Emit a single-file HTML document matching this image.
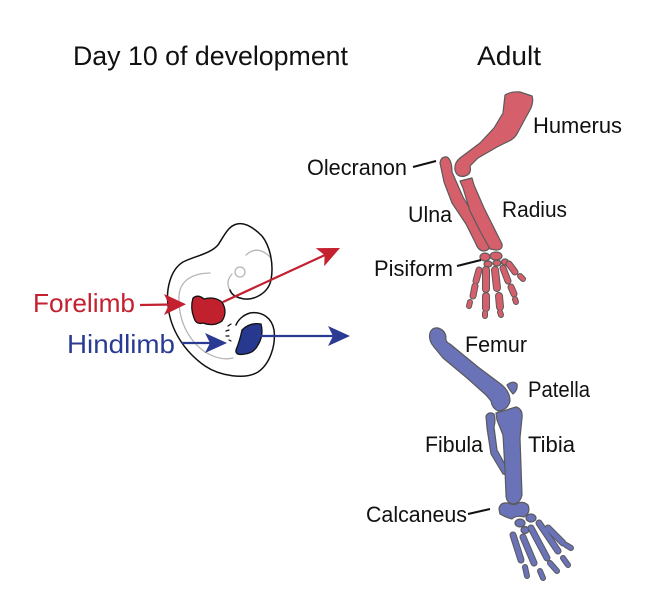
<!DOCTYPE html>
<html>
<head>
<meta charset="utf-8">
<style>
html,body{margin:0;padding:0;background:#fff;}
svg{display:block;}
text{font-family:"Liberation Sans",sans-serif;}
</style>
</head>
<body>
<svg width="662" height="591" viewBox="0 0 662 591" xmlns="http://www.w3.org/2000/svg">
<rect width="662" height="591" fill="#fff"/>

<!-- Titles -->
<text x="73" y="65" font-size="27" fill="#111" textLength="275" lengthAdjust="spacingAndGlyphs">Day 10 of development</text>
<text x="477" y="65" font-size="27" fill="#111" textLength="64" lengthAdjust="spacingAndGlyphs">Adult</text>

<!-- Embryo -->
<g fill="none" stroke-linecap="round" stroke-linejoin="round">
  <path d="M210,273 C195,273 180,279 179,296 C178,320 188,340 205,352 C215,358 225,360 233,358" stroke="#b5b5b5" stroke-width="1.3"/>
  <path d="M246,255 Q258,244 271,258" stroke="#b5b5b5" stroke-width="1.3"/>
  <circle cx="240" cy="272" r="5" stroke="#b5b5b5" stroke-width="1.3"/>
  <path d="M232,274 Q225,282 230,290" stroke="#b5b5b5" stroke-width="1.3"/>
  <path d="M240,298 C252,302 268,294 271,280 C274,264 270,246 262,236 C254,228 245,222 237,224 C228,226 224,236 218,245 C210,254 195,256 183,262 C170,270 166,290 168,305 C170,330 185,352 205,366 C220,376 245,380 258,372 C270,364 276,345 274,330 C272,318 262,311 250,313 C243,315 238,320 236,325" stroke="#111" stroke-width="1.5"/>
  <path d="M230,290 Q232,296 240,298" stroke="#111" stroke-width="1.5"/>
  <path d="M228,326 l3,-2 M226,331 l3,-1 M226,336 l3,0 M229,340 l2,1" stroke="#111" stroke-width="1.2"/>
</g>
<path d="M193,298 Q198,294 204,299 Q214,296 222,302 Q228,312 222,321 Q214,327 203,323 Q196,325 194,318 Q190,308 193,298 Z" fill="#c1202d" stroke="#111" stroke-width="1.3"/>
<path d="M242,330 Q250,322 261,324 Q264,335 258,345 Q254,353 245,354 Q235,356 236,350 Q240,340 242,330 Z" fill="#27388f" stroke="#111" stroke-width="1.3"/>

<!-- Arrows -->
<g stroke-width="2.2">
  <line x1="223" y1="302" x2="325" y2="255" stroke="#c4202f"/>
  <line x1="140" y1="305" x2="172" y2="304.5" stroke="#c4202f"/>
  <line x1="182" y1="343" x2="212" y2="343" stroke="#2b3a92"/>
  <line x1="258" y1="336" x2="336" y2="336" stroke="#2b3a92"/>
</g>
<path d="M340,248 L315.8,248.1 L324.6,255.1 L324.2,266.3 Z" fill="#c4202f"/>
<path d="M186,304.3 L164,294 L169,304.5 L164,315 Z" fill="#c4202f"/>
<path d="M227,343 L205,333 L210,343 L205,353 Z" fill="#2b3a92"/>
<path d="M350,336 L328,326 L333,336 L328,346 Z" fill="#2b3a92"/>

<text x="33" y="312" font-size="26" fill="#c4202f" textLength="102" lengthAdjust="spacingAndGlyphs">Forelimb</text>
<text x="67" y="353" font-size="26" fill="#2b3a92" textLength="108" lengthAdjust="spacingAndGlyphs">Hindlimb</text>

<!-- Arm bones -->
<g fill="#d65f6c" stroke="#5a5a5a" stroke-width="1.2" stroke-linejoin="round">
  <path d="M505,95 Q512,91 520,92 L532,96 Q534,102 530,110 L525,119 L518,132 Q515,139 507,142 L497,147 L478,158 L470,166 Q472,174 465,176 Q457,178 455,170 Q454,163 460,158 L480,143 L494,128 L503,113 Z"/>
  <path d="M440,163 Q441,156 447,157 Q452,160 452,172 L463,197 L478,222 L490,244 Q490,251 483,251 Q478,250 476,244 L466,224 L452,203 L444,182 Z"/>
  <path d="M460,181 L472,178 L474,185 L484,208 L494,228 L502,244 Q503,250 496,250 L490,249 L480,231 L470,211 L463,188 Z"/>
  <ellipse cx="485" cy="257" rx="5" ry="4"/>
  <ellipse cx="496" cy="256" rx="6" ry="4"/>
  <ellipse cx="488" cy="264" rx="4" ry="3"/>
  <ellipse cx="497" cy="263" rx="4" ry="3"/>
  <ellipse cx="505" cy="262" rx="3.5" ry="3"/>
</g>
<g stroke-linecap="round" fill="none">
  <g stroke="#5a5a5a">
    <line x1="479" y1="270" x2="476" y2="281" stroke-width="7"/>
    <line x1="475" y1="286" x2="473" y2="296" stroke-width="7"/>
    <line x1="470" y1="302" x2="469" y2="306" stroke-width="6"/>
    <line x1="486" y1="270" x2="486" y2="289" stroke-width="8"/>
    <line x1="486" y1="296" x2="486" y2="308" stroke-width="8"/>
    <line x1="485" y1="313" x2="485" y2="316" stroke-width="6"/>
    <line x1="495" y1="270" x2="497" y2="288" stroke-width="8"/>
    <line x1="499" y1="296" x2="500" y2="307" stroke-width="8"/>
    <line x1="500" y1="312" x2="501" y2="315" stroke-width="6"/>
    <line x1="503" y1="268" x2="508" y2="281" stroke-width="7"/>
    <line x1="511" y1="287" x2="514" y2="294" stroke-width="7"/>
    <line x1="515" y1="299" x2="516" y2="302" stroke-width="6"/>
    <line x1="509" y1="264" x2="515" y2="272" stroke-width="7"/>
    <line x1="520" y1="276" x2="523" y2="279" stroke-width="6"/>
  </g>
  <g stroke="#d65f6c">
    <line x1="479" y1="270" x2="476" y2="281" stroke-width="5"/>
    <line x1="475" y1="286" x2="473" y2="296" stroke-width="5"/>
    <line x1="470" y1="302" x2="469" y2="306" stroke-width="4"/>
    <line x1="486" y1="270" x2="486" y2="289" stroke-width="6"/>
    <line x1="486" y1="296" x2="486" y2="308" stroke-width="6"/>
    <line x1="485" y1="313" x2="485" y2="316" stroke-width="4"/>
    <line x1="495" y1="270" x2="497" y2="288" stroke-width="6"/>
    <line x1="499" y1="296" x2="500" y2="307" stroke-width="6"/>
    <line x1="500" y1="312" x2="501" y2="315" stroke-width="4"/>
    <line x1="503" y1="268" x2="508" y2="281" stroke-width="5"/>
    <line x1="511" y1="287" x2="514" y2="294" stroke-width="5"/>
    <line x1="515" y1="299" x2="516" y2="302" stroke-width="4"/>
    <line x1="509" y1="264" x2="515" y2="272" stroke-width="5"/>
    <line x1="520" y1="276" x2="523" y2="279" stroke-width="4"/>
  </g>
</g>

<!-- Leg bones -->
<g fill="#6a72b8" stroke="#5a5a5a" stroke-width="1.2" stroke-linejoin="round">
  <path d="M430,333 Q432,327 438,328 Q445,330 446,337 Q445,342 450,344 L478,367 L498,382 Q510,390 510,401 Q508,410 498,411 Q492,408 491,401 L486,395 L467,378 L443,358 L434,347 Q428,340 430,333 Z"/>
  <path d="M507,385 Q513,380 517,384 Q518,390 513,394 Q510,391 507,385 Z"/>
  <path d="M486,416 Q489,411 494,414 Q496,420 494,427 L497,450 L508,470 Q507,476 503,474 L491,454 L487,428 Z"/>
  <path d="M496,413 L516,407 Q523,409 522,418 L520,438 L522,495 Q520,504 512,504 Q506,502 506,495 L505,470 L503,435 L497,420 Z"/>
  <path d="M499,509 Q500,502 508,503 Q514,506 518,503 Q524,501 528,505 Q531,513 524,517 Q516,515 512,519 Q505,517 500,514 Z"/>
  <ellipse cx="520" cy="523" rx="5" ry="4"/>
  <ellipse cx="531" cy="518" rx="5" ry="4"/>
  <ellipse cx="525" cy="530" rx="4" ry="3.5"/>
</g>
<g stroke-linecap="round" fill="none">
  <g stroke="#5a5a5a">
    <line x1="513" y1="535" x2="521" y2="560" stroke-width="7"/>
    <line x1="525" y1="567" x2="527" y2="576" stroke-width="6"/>
    <line x1="523" y1="537" x2="534" y2="563" stroke-width="7"/>
    <line x1="540" y1="571" x2="543" y2="578" stroke-width="6"/>
    <line x1="531" y1="528" x2="547" y2="558" stroke-width="7"/>
    <line x1="550" y1="563" x2="557" y2="571" stroke-width="6"/>
    <line x1="539" y1="523" x2="558" y2="551" stroke-width="7"/>
    <line x1="563" y1="558" x2="568" y2="565" stroke-width="6"/>
    <line x1="548" y1="528" x2="563" y2="543" stroke-width="7"/>
    <line x1="566" y1="545" x2="571" y2="548" stroke-width="6"/>
  </g>
  <g stroke="#6a72b8">
    <line x1="513" y1="535" x2="521" y2="560" stroke-width="5"/>
    <line x1="525" y1="567" x2="527" y2="576" stroke-width="4"/>
    <line x1="523" y1="537" x2="534" y2="563" stroke-width="5"/>
    <line x1="540" y1="571" x2="543" y2="578" stroke-width="4"/>
    <line x1="531" y1="528" x2="547" y2="558" stroke-width="5"/>
    <line x1="550" y1="563" x2="557" y2="571" stroke-width="4"/>
    <line x1="539" y1="523" x2="558" y2="551" stroke-width="5"/>
    <line x1="563" y1="558" x2="568" y2="565" stroke-width="4"/>
    <line x1="548" y1="528" x2="563" y2="543" stroke-width="5"/>
    <line x1="566" y1="545" x2="571" y2="548" stroke-width="4"/>
  </g>
</g>

<!-- Leader lines -->
<g stroke="#111" stroke-width="2">
  <line x1="413" y1="167" x2="436" y2="161"/>
  <line x1="457" y1="266" x2="481" y2="260"/>
  <line x1="468" y1="514" x2="490" y2="509"/>
</g>

<!-- Labels -->
<g font-size="22" fill="#111">
  <text x="533" y="133" textLength="89" lengthAdjust="spacingAndGlyphs">Humerus</text>
  <text x="307" y="175" textLength="100" lengthAdjust="spacingAndGlyphs">Olecranon</text>
  <text x="408" y="222" textLength="44" lengthAdjust="spacingAndGlyphs">Ulna</text>
  <text x="502" y="217" textLength="65" lengthAdjust="spacingAndGlyphs">Radius</text>
  <text x="374" y="276" textLength="79" lengthAdjust="spacingAndGlyphs">Pisiform</text>
  <text x="465" y="352" textLength="62" lengthAdjust="spacingAndGlyphs">Femur</text>
  <text x="528" y="397" textLength="62" lengthAdjust="spacingAndGlyphs">Patella</text>
  <text x="425" y="452" textLength="58" lengthAdjust="spacingAndGlyphs">Fibula</text>
  <text x="528" y="452" textLength="47" lengthAdjust="spacingAndGlyphs">Tibia</text>
  <text x="366" y="522" textLength="101" lengthAdjust="spacingAndGlyphs">Calcaneus</text>
</g>
</svg>
</body>
</html>
